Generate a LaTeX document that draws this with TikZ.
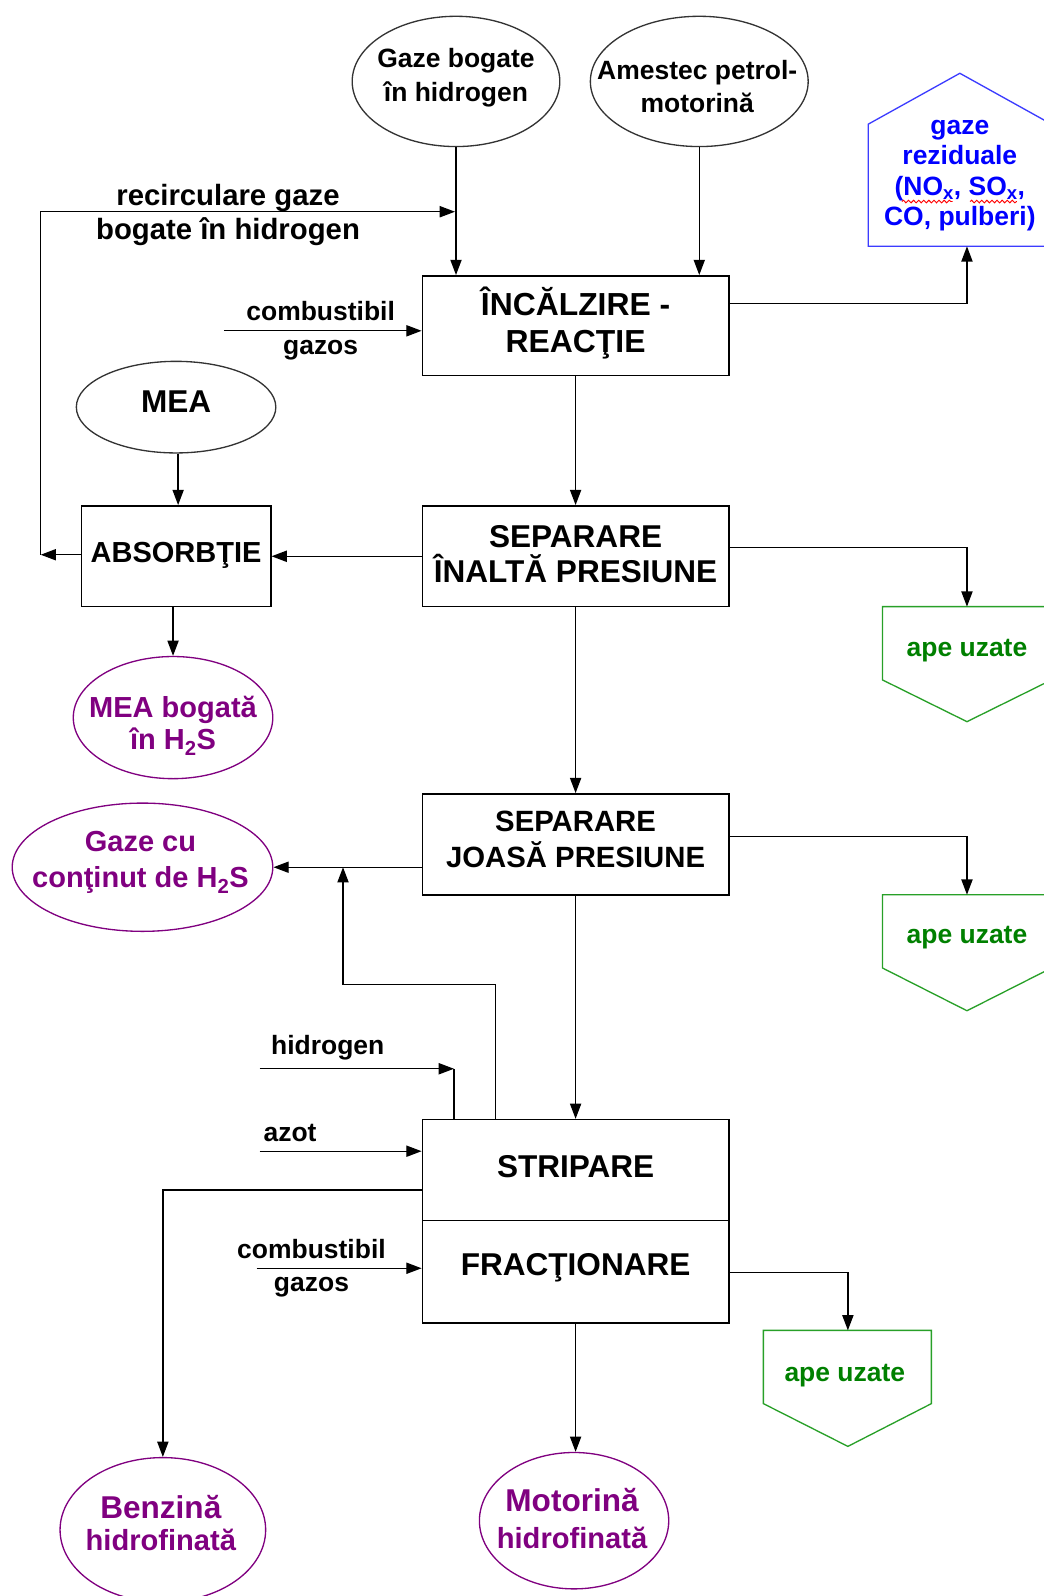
\documentclass[tikz,border=0pt]{standalone}
\usepackage{fontspec}
\setmainfont{Liberation Sans}
\usetikzlibrary{arrows.meta,shapes.geometric,decorations.pathmorphing}
\definecolor{purp}{RGB}{128,0,128}
\definecolor{grn}{RGB}{0,128,0}
\definecolor{grnline}{RGB}{40,160,40}
\definecolor{blu}{RGB}{0,0,255}
\definecolor{bluline}{RGB}{60,60,255}
\newcommand{\myfs}[2]{\fontsize{#1}{#2}\selectfont}
\begin{document}
\begin{tikzpicture}[x=1pt,y=-1pt,
 arr/.style={draw=black, line width=1.3pt, -{Triangle[length=15pt,width=11pt]}},
 ln/.style={draw=black, line width=1.3pt},
 box/.style={draw=black, line width=1.6pt, rectangle, inner sep=0pt, minimum width=301pt},
 ell/.style={draw=black!80, line width=1.3pt, ellipse, inner sep=0pt},
 pell/.style={draw=purp, line width=1.3pt, ellipse, inner sep=0pt},
 txt/.style={align=center, inner sep=0pt},
 ptxt/.style={align=center, inner sep=0pt, text=purp},
 gtxt/.style={align=center, inner sep=0pt, text=grn, font=\bfseries\myfs{26}{30}},
 gshape/.style={draw=grnline, line width=1.3pt},
]
\useasboundingbox (0,0) rectangle (1025,1568);
\fill[white] (0,0) rectangle (1025,1568);

% top ellipses
\node[ell, minimum width=204pt, minimum height=128pt] (gaze) at (448,80) {};
\node[txt, font=\bfseries\myfs{26}{33}] (gazet) at (448,76.5) {Gaze bogate\\în hidrogen};
\node[ell, minimum width=214pt, minimum height=128pt] (amest) at (687,80) {};
\node[txt, font=\bfseries\myfs{26}{32}] (amestt) at (685,85) {Amestec petrol-\\motorină};

% blue pentagon
\draw[draw=bluline, line width=1.3pt] (853,122) -- (943,72) -- (1033,122) -- (1033,242) -- (853,242) -- cycle;
\coordinate (rezB) at (950,242);
\node[txt, text=blu, font=\bfseries\myfs{26}{30}] (rez) at (943,172.5)
  {gaze\\reziduale\\(NO\textsubscript{x}, SO\textsubscript{x},\\CO, pulberi)};
\draw[red, line width=0.9pt, decorate, decoration={snake, amplitude=1.3pt, segment length=5pt}] (886,198) -- (936,198);
\draw[red, line width=0.9pt, decorate, decoration={snake, amplitude=1.3pt, segment length=5pt}] (953,198) -- (999,198);

% boxes
\node[box, minimum height=98pt] (inc) at (565.5,320) {};
\node[txt, font=\bfseries\myfs{31.3}{37}] (inct) at (565.5,317.5) {ÎNCĂLZIRE -\\REACŢIE};
\node[box, minimum height=99pt] (sep1) at (565.5,546.5) {};
\node[txt, font=\bfseries\myfs{31}{35}] (sep1t) at (565.5,544.5) {SEPARARE\\ÎNALTĂ PRESIUNE};
\node[box, minimum height=99pt] (sep2) at (565.5,829.5) {};
\node[txt, font=\bfseries\myfs{28.8}{35}] (sep2t) at (565.5,824.5) {SEPARARE\\JOASĂ PRESIUNE};
\node[box, minimum height=99pt] (strip) at (565.5,1149.5) {};
\node[txt, font=\bfseries\myfs{31}{35}] (stript) at (565.5,1146.5) {STRIPARE};
\node[box, minimum height=101pt] (frac) at (565.5,1249.5) {};
\node[txt, font=\bfseries\myfs{31}{35}] (fract) at (565.5,1245.5) {FRACŢIONARE};
\node[box, minimum width=186pt, minimum height=99pt] (abs) at (173,546.5) {};
\node[txt, font=\bfseries\myfs{28.5}{35}] (abst) at (173,545.5) {ABSORBŢIE};

% MEA
\node[ell, minimum width=196pt, minimum height=90pt] (mea) at (173,400) {};
\node[txt, font=\bfseries\myfs{31}{35}] (meat) at (173,395) {MEA};

% purple ellipses
\node[pell, minimum width=196pt, minimum height=120pt] (meab) at (170,705) {};
\node[ptxt, font=\bfseries\myfs{28.5}{32}] (meabt) at (170,713) {MEA bogată\\în H\textsubscript{2}S};
\node[pell, minimum width=256pt, minimum height=126pt] (gazecu) at (140,852) {};
\node[ptxt, font=\bfseries\myfs{28.5}{35}] (gazecut) at (138,847.5) {Gaze cu\\conţinut de H\textsubscript{2}S};
\node[pell, minimum width=202pt, minimum height=142pt] (benz) at (160,1503) {};
\node[ptxt, font=\bfseries\myfs{28.6}{32}] (benzt) at (158,1496.5) {{\myfs{31}{32}Benzină}\\hidrofinată};
\node[pell, minimum width=186pt, minimum height=134pt] (mot) at (564,1494) {};
\node[ptxt, font=\bfseries\myfs{28.6}{36}] (mott) at (562,1492) {{\myfs{31}{36}Motorină}\\hidrofinată};

% green shapes
\draw[gshape] (867,596) -- (1033,596) -- (1033,668) -- (950,709) -- (867,668) -- cycle;
\coordinate (ape1T) at (950,596);
\node[gtxt] (ape1) at (950,639) {ape uzate};
\draw[gshape] (867,879) -- (1033,879) -- (1033,951) -- (950,993) -- (867,951) -- cycle;
\coordinate (ape2T) at (950,879);
\node[gtxt] (ape2) at (950,921) {ape uzate};
\draw[gshape] (750,1307) -- (915,1307) -- (915,1379) -- (833,1421) -- (750,1379) -- cycle;
\coordinate (ape3T) at (833,1307);
\node[gtxt] (ape3) at (830,1351) {ape uzate};

% labels
\node[txt, font=\bfseries\myfs{28.8}{33}] (recl) at (224,211.5) {recirculare gaze\\bogate în hidrogen};
\node[txt, font=\bfseries\myfs{26}{34}] (cb1l) at (315,325) {combustibil\\gazos};
\node[txt, font=\bfseries\myfs{26}{33}] (cb2l) at (306,1246) {combustibil\\gazos};
\node[txt, font=\bfseries\myfs{26}{30}] (hl) at (322,1029) {hidrogen};
\node[txt, font=\bfseries\myfs{26}{30}] (al) at (285,1113) {azot};

% connectors
\draw[arr] (gaze.south) -- (gaze.south |- inc.north);
\draw[arr] (amest.south) -- (amest.south |- inc.north);
\coordinate (recL) at (40,545);
\coordinate (recR) at (447,208);
\draw[arr] (abs.west |- recL) -- (recL);
\draw[arr] (recL) |- (recR);
\coordinate (cb1) at (220,325);
\draw[arr] (cb1) -- (cb1 -| inc.west);
\draw[arr] (inc.east |- 0,298) -| (rezB);
\draw[arr] (mea.south -| 175,0) -- (abs.north -| 175,0);
\draw[arr] (inc.south) -- (sep1.north);
\draw[arr] (sep1.west) -- (sep1.west -| abs.east);
\draw[arr] (sep1.east |- 0,538) -| (ape1T);
\draw[arr] (abs.south -| meab.north) -- (meab.north);
\draw[arr] (sep1.south) -- (sep2.north);
\draw[arr] (sep2.west |- gazecu.east) -- (gazecu.east);
\draw[arr] (sep2.east |- 0,822) -| (ape2T);
\draw[arr] (sep2.south) -- (strip.north);
\coordinate (u1) at (487,967);
\coordinate (u2) at (337,852);
\draw[arr] (strip.north -| u1) -- (u1) -| (u2);
\coordinate (h0) at (255,1050);
\coordinate (h1) at (446,1050);
\draw[arr] (h0) -- (h1);
\draw[ln] (h1) -- (h1 |- strip.north);
\coordinate (a0) at (255,1131);
\draw[arr] (a0) -- (a0 -| strip.west);
\draw[arr] (strip.west |- 0,1169) -| (benz.north);
\coordinate (cb2) at (252,1246);
\draw[arr] (cb2) -- (cb2 -| frac.west);
\draw[arr] (frac.east |- 0,1250) -| (ape3T);
\draw[arr] (frac.south) -- (frac.south |- mot.north);
\end{tikzpicture}
\end{document}
